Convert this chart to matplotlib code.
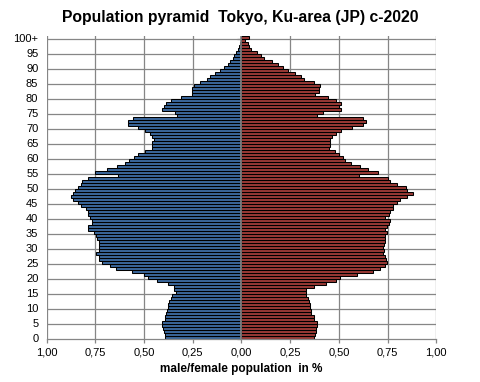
import numpy as np
import matplotlib
matplotlib.use("Agg")
import matplotlib.pyplot as plt
from matplotlib.ticker import FuncFormatter, NullFormatter

plt.rcParams['font.family'] = ['Liberation Sans', 'DejaVu Sans']

# share of total population (%) by single year of age, 0 .. 100+
ages = list(range(101))
age_labels = [str(a) for a in range(0, 100, 5)] + ["100+"]

male = [0.393, 0.393, 0.398, 0.401, 0.406, 0.406, 0.393, 0.393, 0.389, 0.381,
        0.378, 0.378, 0.372, 0.364, 0.355, 0.337, 0.347, 0.347, 0.378, 0.432,
        0.480, 0.500, 0.561, 0.643, 0.673, 0.714, 0.730, 0.733, 0.745, 0.730,
        0.730, 0.730, 0.730, 0.740, 0.745, 0.755, 0.786, 0.786, 0.767, 0.767,
        0.780, 0.786, 0.790, 0.800, 0.823, 0.840, 0.867, 0.877, 0.866, 0.857,
        0.840, 0.826, 0.820, 0.790, 0.633, 0.750, 0.690, 0.640, 0.600, 0.580,
        0.550, 0.530, 0.495, 0.460, 0.460, 0.460, 0.450, 0.460, 0.470, 0.497,
        0.530, 0.582, 0.582, 0.556, 0.333, 0.343, 0.406, 0.398, 0.390, 0.360,
        0.310, 0.255, 0.255, 0.252, 0.245, 0.214, 0.177, 0.160, 0.134, 0.112,
        0.092, 0.071, 0.058, 0.044, 0.037, 0.027, 0.018, 0.012, 0.008, 0.005,
        0.004]

female = [0.374, 0.378, 0.384, 0.384, 0.388, 0.388, 0.374, 0.374, 0.359, 0.357,
          0.354, 0.350, 0.347, 0.344, 0.333, 0.330, 0.330, 0.374, 0.435, 0.483,
          0.507, 0.592, 0.673, 0.711, 0.735, 0.745, 0.741, 0.738, 0.728, 0.731,
          0.728, 0.731, 0.735, 0.735, 0.735, 0.745, 0.735, 0.748, 0.759, 0.762,
          0.738, 0.755, 0.765, 0.776, 0.776, 0.796, 0.816, 0.852, 0.883, 0.852,
          0.844, 0.796, 0.762, 0.752, 0.602, 0.700, 0.650, 0.609, 0.561, 0.530,
          0.520, 0.500, 0.480, 0.449, 0.456, 0.456, 0.452, 0.466, 0.486, 0.510,
          0.568, 0.622, 0.639, 0.622, 0.388, 0.420, 0.510, 0.500, 0.510, 0.486,
          0.446, 0.378, 0.398, 0.398, 0.405, 0.372, 0.323, 0.306, 0.277, 0.241,
          0.211, 0.185, 0.158, 0.117, 0.099, 0.078, 0.051, 0.041, 0.031, 0.019,
          0.036]

fig = plt.figure(figsize=(4.8, 3.82), dpi=100)
ax = fig.add_axes([0.0973, 0.1118, 0.8116, 0.7932])

grid_c = '#868686'
ax.barh(ages, -np.array(male), height=1.0, color='#3B679B', edgecolor='black', linewidth=0.75, zorder=2)
ax.barh(ages, female, height=1.0, color='#983A36', edgecolor='black', linewidth=0.75, zorder=2)

ax.set_xlim(-1, 1)
ax.set_ylim(-0.5, 100.5)

# gridlines
ax.set_xticks(np.arange(-1, 1.01, 0.25))
ax.xaxis.set_major_formatter(FuncFormatter(lambda v, p: f"{abs(v):.2f}".replace('.', ',')))
for v in np.arange(-1, 1.01, 0.25):
    ax.axvline(v, color=grid_c, lw=0.9, zorder=1)
for b in np.arange(4.5, 100, 5):
    ax.axhline(b, color=grid_c, lw=0.9, zorder=1)
ax.axvline(0, color=grid_c, lw=1.2, zorder=3)

ax.set_yticks(list(range(0, 101, 5)))
ax.set_yticklabels(age_labels)
ax.tick_params(axis='y', length=0, pad=6, labelsize=8)
ax.tick_params(axis='x', length=3, color=grid_c, width=0.9, labelsize=8, pad=3)

for s in ['top', 'right', 'left']:
    ax.spines[s].set_visible(False)
ax.spines['bottom'].set_color(grid_c)
ax.spines['bottom'].set_linewidth(0.9)

# category axis crossing at zero, with small tick marks
sec = ax.secondary_yaxis(0.5)
sec.set_yticks(np.arange(-0.5, 101, 5))
sec.yaxis.set_major_formatter(NullFormatter())
sec.yaxis.set_ticks_position('left')
sec.tick_params(length=3, color=grid_c, width=0.9, direction='out',
                labelleft=False, labelright=False)
for s in sec.spines.values():
    s.set_visible(False)

ax.set_xlabel("male/female population  in %", fontsize=8.5, fontweight='bold', labelpad=4)
fig.suptitle("Population pyramid  Tokyo, Ku-area (JP) c-2020", fontsize=11.3, fontweight='bold', y=0.975)

fig.savefig("out.png", dpi=100)
